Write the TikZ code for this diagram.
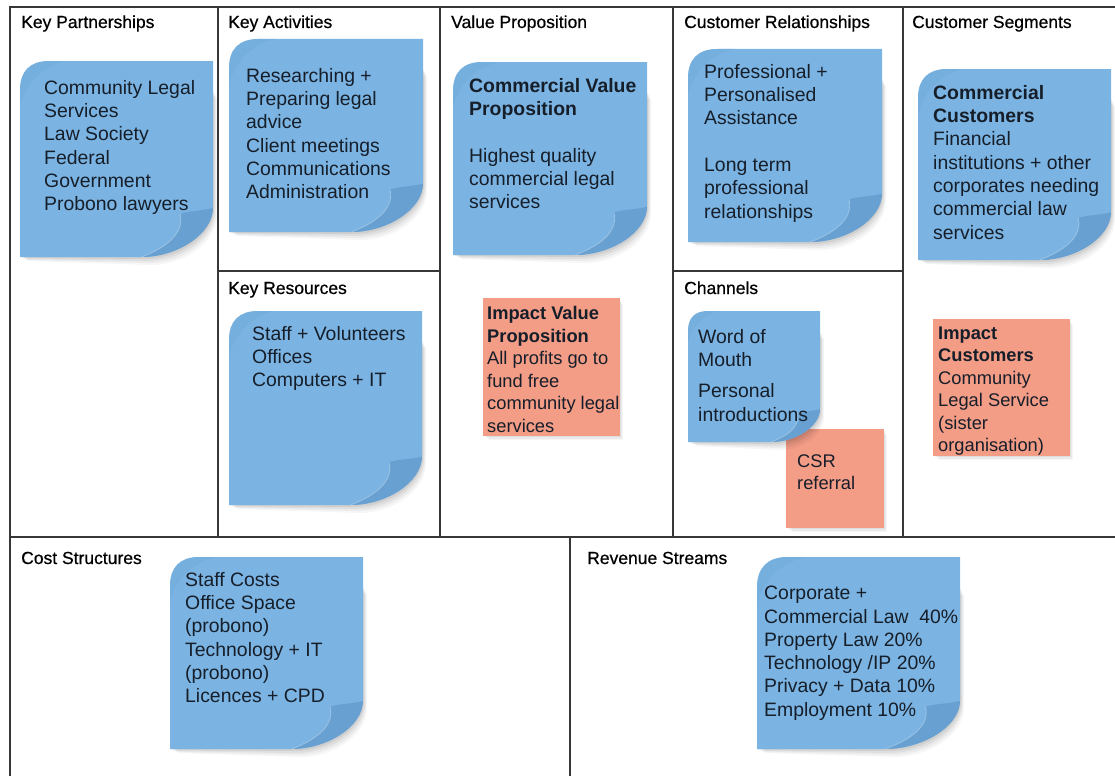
\documentclass[tikz,border=0pt]{standalone}
\usepackage{fontspec}
\setmainfont{Liberation Sans}
\newfontfamily\headfont[FakeBold=0.6]{Liberation Sans}
\definecolor{stickyblue}{RGB}{123,180,226}
\definecolor{curlblue}{RGB}{104,160,209}
\definecolor{cornerblue}{RGB}{108,166,214}
\definecolor{salmon}{RGB}{243,156,134}
\definecolor{inkblue}{RGB}{22,30,42}
\definecolor{gridcol}{RGB}{55,55,55}
\tikzset{
  gridln/.style={draw=gridcol,line width=1.2pt},
  header/.style={anchor=base west,inner sep=0pt,text=black,font=\headfont\fontsize{17.5}{20}\selectfont},
  bluetext/.style={anchor=north west,inner sep=0pt,align=left,text=inkblue,font=\fontsize{19.4}{23.3}\selectfont},
  salmontext/.style={anchor=north west,inner sep=0pt,align=left,text=inkblue,font=\fontsize{18.3}{22.5}\selectfont},
  salmonnote/.style={fill=salmon},
}
% blue sticky note with rounded top-left and curled bottom-right corner
\newcommand\bluenote[5]{%
  \pgfmathsetmacro\nW{#4-#2}%
  \pgfmathsetmacro\nH{#5-#3}%
  \pgfmathsetmacro\cy{0.74*\nH}%
  \pgfmathsetmacro\cx{0.63*\nW}%
  \pgfmathsetmacro\rr{0.15*\nW}%
  \begin{scope}[shift={(#2,#3)}]
    \foreach \d/\o in {8/0.035,6/0.045,4/0.055,2/0.065}{%
      \fill[black,opacity=\o] (\d,\nH+0.5*\d) -- (\d,\rr+\d) -- (\nW+0.5*\d,\rr+\d)
        -- (\nW+0.5*\d,\cy+\d) .. controls (\nW+0.5*\d,\cy+0.55*\nH-0.55*\cy+\d) and (\nW-0.5*\nW+0.5*\cx+\d,\nH+\d) .. (\cx+\d,\nH+\d) -- cycle;}
    \path[fill=stickyblue] (0,\nH) -- (0,\rr) .. controls (0,0.35*\rr) and (0.35*\rr,0) .. (\rr,0)
      -- (\nW,0) -- (\nW,\cy) .. controls (\nW,\cy+0.55*\nH-0.55*\cy) and (0.5*\nW+0.5*\cx,\nH) .. (\cx,\nH) -- cycle;
    \path[fill=cornerblue,opacity=0.35] (0,1.6*\rr) -- (0,\rr) .. controls (0,0.35*\rr) and (0.35*\rr,0) .. (\rr,0)
      -- (1.6*\rr,0) .. controls (0.8*\rr,0.15*\rr) and (0.15*\rr,0.8*\rr) .. (0,1.6*\rr) -- cycle;
    \path[fill=curlblue] (0.83*\nW,0.78*\nH) .. controls (0.85*\nW,0.86*\nH) and (0.79*\nW,0.94*\nH) .. (\cx,\nH)
      .. controls (0.5*\nW+0.5*\cx,\nH) and (\nW,\cy+0.55*\nH-0.55*\cy) .. (\nW,\cy+0.01*\nH)
      .. controls (0.94*\nW,0.765*\nH) and (0.87*\nW,0.765*\nH) .. (0.83*\nW,0.78*\nH) -- cycle;
    \draw[white,opacity=0.3,line width=0.8pt] (0.83*\nW,0.78*\nH) .. controls (0.85*\nW,0.86*\nH) and (0.79*\nW,0.94*\nH) .. (\cx,\nH);
    \coordinate (#1) at (0,0);
  \end{scope}}
\newcommand\salmonnote[5]{%
  \foreach \d/\o in {6/0.035,4/0.045,2/0.06}{%
    \fill[black,opacity=\o] (#2+\d,#3+\d) rectangle (#4+0.5*\d,#5+0.7*\d);}
  \fill[salmonnote] (#2,#3) rectangle (#4,#5);
  \coordinate (#1) at (#2,#3);}
\begin{document}
\begin{tikzpicture}[x=1pt,y=-1pt]
\useasboundingbox[fill=white] (0,0) rectangle (1115,776);
% ---- grid ----
\coordinate (tl) at (10,7);
\coordinate (tr) at (1115,7);
\coordinate (bl) at (10,776);
\coordinate (ml) at (10,537);
\coordinate (mr) at (1115,537);
\draw[gridln] (tr) -- (tl) -- (bl);
\draw[gridln] (ml) -- (mr);
\draw[gridln] (218,7) -- (218,537);
\draw[gridln] (440,7) -- (440,537);
\draw[gridln] (673,7) -- (673,537);
\draw[gridln] (903,7) -- (903,537);
\draw[gridln] (218,271) -- (440,271);
\draw[gridln] (673,271) -- (903,271);
\draw[gridln] (570,537) -- (570,776);
% ---- headers ----
\node[header] (hKP) at (21,28) {Key Partnerships};
\node[header] (hKA) at (228,28) {Key Activities};
\node[header] (hVP) at (451,28) {Value Proposition};
\node[header] (hCR) at (684,28) {Customer Relationships};
\node[header] (hCS) at (912,28) {Customer Segments};
\node[header] (hKR) at (228,294) {Key Resources};
\node[header] (hCH) at (684,294) {Channels};
\node[header] (hCO) at (21,564) {Cost Structures};
\node[header] (hRS) at (587,564) {Revenue Streams};
% ---- notes ----
\bluenote{nKP}{20}{61}{213}{257}
\node[bluetext] (tKP) at (44,80) {Community Legal\\Services\\Law Society\\Federal\\Government\\Probono lawyers};
\bluenote{nKA}{229}{39}{423}{232}
\node[bluetext] (tKA) at (246,68) {Researching +\\Preparing legal\\advice\\Client meetings\\Communications\\Administration};
\bluenote{nVP}{453}{62}{647}{255}
\node[bluetext] (tVP) at (469,78) {\textbf{Commercial Value}\\\textbf{Proposition}\\[23.3pt]Highest quality\\commercial legal\\services};
\bluenote{nCR}{688}{49}{882}{242}
\node[bluetext] (tCR) at (704,64) {Professional +\\Personalised\\Assistance\\[23.3pt]Long term\\professional\\relationships};
\bluenote{nCS}{918}{69}{1111}{260}
\node[bluetext] (tCS) at (933,85) {\textbf{Commercial}\\\textbf{Customers}\\Financial\\institutions + other\\corporates needing\\commercial law\\services};
\bluenote{nKR}{229}{311}{422}{505}
\node[bluetext] (tKR) at (252,326) {Staff + Volunteers\\Offices\\Computers + IT};
\salmonnote{nIVP}{483}{298}{620}{436}
\node[salmontext] (tIVP) at (487,306.5) {\textbf{Impact Value}\\\textbf{Proposition}\\All profits go to\\fund free\\community legal\\services};
\salmonnote{nCSR}{786}{429}{884}{528}
\node[salmontext] (tCSR) at (797,454.5) {CSR\\referral};
\bluenote{nCH}{688}{311}{820}{442}
\node[bluetext] (tCH) at (698,329) {Word of\\Mouth\\[8pt]Personal\\introductions};
\salmonnote{nIC}{933}{319}{1070}{456}
\node[salmontext] (tIC) at (938,326.5) {\textbf{Impact}\\\textbf{Customers}\\Community\\Legal Service\\(sister\\organisation)};
\bluenote{nCO}{170}{557}{363}{749}
\node[bluetext] (tCO) at (185,572) {Staff Costs\\Office Space\\(probono)\\Technology + IT\\(probono)\\Licences + CPD};
\bluenote{nRS}{757}{557}{960}{749}
\node[bluetext] (tRS) at (764,586) {Corporate +\\Commercial Law\ \ 40\%\\Property Law 20\%\\Technology /IP 20\%\\Privacy + Data 10\%\\Employment 10\%};
\end{tikzpicture}
\end{document}
